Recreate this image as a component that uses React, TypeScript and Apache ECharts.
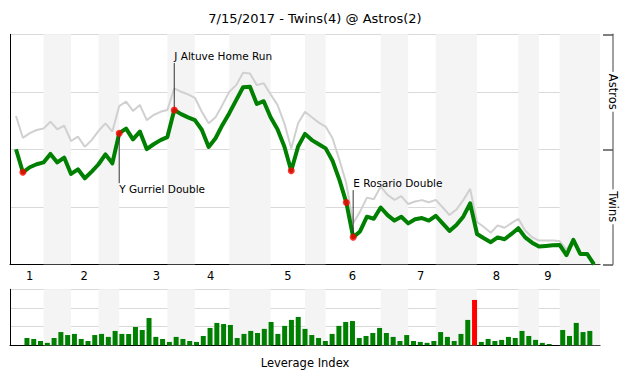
import React, { useEffect, useRef } from 'react';
import * as echarts from 'echarts';

const titleText = '7/15/2017 - Twins(4) @ Astros(2)';

// Astros win probability (%) after each plate appearance (index 0 = first pitch)
const homeWinProb = [
  50, 40.0, 42.2, 43.5, 44.3, 48.0, 44.3, 46.4, 39.3, 41.3,
  37.4, 40.3, 43.5, 47.8, 43.9, 57.0, 59.0, 54.3, 57.7, 50.1,
  52.2, 54.0, 55.3, 67.1, 65.3, 63.9, 62.7, 58.5, 51.0, 54.8,
  60.6, 65.7, 71.4, 77.0, 77.2, 69.7, 70.9, 63.9, 58.7, 51.2,
  40.7, 51.2, 56.7, 54.0, 52.2, 50.4, 45.0, 36.7, 26.9, 11.8,
  14.3, 20.7, 19.8, 24.7, 21.4, 19.0, 20.7, 17.8, 19.6, 20.1,
  19.0, 21.1, 17.8, 14.5, 17.1, 20.7, 26.5, 13.2, 11.3, 9.6,
  11.7, 10.9, 13.2, 15.7, 11.7, 9.4, 7.7, 8.0, 8.3, 8.4,
  4.0, 10.6, 4.5, 4.5, 0,
];

// Secondary (gray) probability line
const altWinProb = [
  64.5, 55.0, 57.0, 58.4, 59.0, 62.0, 58.7, 60.3, 53.6, 55.5,
  51.1, 54.0, 58.0, 61.3, 57.7, 68.8, 70.7, 66.7, 69.3, 62.7,
  64.9, 66.3, 67.1, 76.5, 75.0, 73.9, 72.4, 66.3, 61.3, 63.9,
  69.3, 75.0, 77.9, 83.3, 83.0, 77.9, 78.7, 73.9, 69.3, 61.3,
  50.4, 61.3, 66.3, 63.9, 61.6, 59.9, 54.8, 45.4, 35.2, 17.8,
  22.9, 29.0, 28.3, 33.8, 30.2, 28.0, 29.6, 26.2, 27.3, 27.9,
  27.0, 28.0, 24.8, 21.4, 23.8, 27.9, 32.8, 18.4, 16.2, 13.7,
  16.9, 15.9, 17.9, 19.8, 14.7, 11.8, 10.3, 10.3, 10.4, 10.1,
  6.4, 10.7, 4.5, 4.5, 0,
];

const scoringPlays = [1, 15, 23, 40, 48, 49];

const annotations = [
  { idx: 15, text: 'Y Gurriel Double', dir: 'down' },
  { idx: 23, text: 'J Altuve Home Run', dir: 'up' },
  { idx: 49, text: 'E Rosario Double', dir: 'up' },
];

// Leverage index for each plate appearance
const leverage = [
  0.39, 0.34, 0.23, 0.13, 0.39, 0.71, 0.55, 0.61, 0.34, 0.23,
  0.55, 0.61, 0.45, 0.77, 0.61, 0.61, 0.98, 0.82, 1.46, 0.45,
  0.34, 0.18, 0.45, 0.34, 0.23, 0.18, 0.50, 0.93, 1.20, 1.14,
  1.09, 0.39, 0.61, 0.77, 0.66, 0.88, 1.25, 0.61, 1.04, 1.36,
  1.52, 0.88, 0.55, 0.39, 0.23, 0.61, 1.04, 1.25, 1.30, 0.39,
  0.50, 0.66, 0.93, 0.66, 0.45, 0.23, 0.55, 0.23, 0.18, 0.13,
  0.23, 0.71, 0.45, 0.23, 0.61, 1.36, 2.43, 0.18, 0.34, 0.23,
  0.29, 0.45, 0.39, 0.77, 0.50, 0.29, 0.13, 0.07, 0, 0.82,
  0.50, 1.20, 0.71, 0.77,
];

const inningLabels = ['1', '2', '3', '4', '5', '6', '7', '8', '9'];
const inningTickPos = [2.0, 9.9, 20.4, 28.3, 39.5, 48.9, 58.8, 69.8, 77.3];
// bottom halves of innings (in plate-appearance index units)
const bottomHalves = [
  [4, 8], [12, 15], [22, 26], [31, 37], [42, 45], [53, 57], [61, 67], [73, 76], [79, 85],
];

const sideLabels = ['Twins', 'Astros'];
const sideLabelPos = [25, 75];

const X_MIN = -0.872;
const X_MAX = 84.872;
const FONT = 'DejaVu Sans';

export default function App() {
  const ref = useRef<HTMLDivElement>(null);

  useEffect(() => {
    if (!ref.current) return;
    const chart = echarts.init(ref.current, null, { renderer: 'svg' });
    const maxLev = Math.max(...leverage);
    const bandData = bottomHalves.map(([a, b]) => [
      { xAxis: a },
      { xAxis: Math.min(b, X_MAX) },
    ]);

    chart.setOption({
      animation: false,
      backgroundColor: '#fff',
      textStyle: { fontFamily: FONT },
      title: {
        text: titleText,
        left: 'center',
        top: 7,
        textStyle: { fontSize: 13, fontWeight: 'normal', color: '#000', fontFamily: FONT },
      },
      grid: [
        { left: 10, top: 34.3, width: 590, height: 230 },
        { left: 10, top: 289.3, width: 590, height: 56 },
      ],
      xAxis: [
        {
          gridIndex: 0,
          type: 'value',
          min: X_MIN,
          max: X_MAX,
          axisLine: { show: true, onZero: false, lineStyle: { color: '#000', width: 1 } },
          axisTick: { show: false },
          splitLine: { show: false },
          axisLabel: {
            show: true,
            customValues: inningTickPos,
            margin: 6,
            color: '#000',
            fontSize: 11.5,
            fontFamily: FONT,
            formatter: (v: number) => {
              const k = inningTickPos.findIndex((p) => Math.abs(p - v) < 1e-6);
              return k >= 0 ? inningLabels[k] : '';
            },
          },
        },
        {
          gridIndex: 1,
          type: 'value',
          min: -2.5,
          max: 84.5,
          axisLine: { show: true, onZero: false, lineStyle: { color: '#000', width: 1 } },
          axisTick: { show: false },
          axisLabel: { show: false },
          splitLine: { show: false },
          name: 'Leverage Index',
          nameLocation: 'middle',
          nameGap: 12,
          nameTextStyle: { color: '#000', fontSize: 11.5, fontFamily: FONT },
        },
        {
          gridIndex: 1,
          type: 'value',
          min: X_MIN,
          max: X_MAX,
          show: false,
        },
      ],
      yAxis: [
        {
          gridIndex: 0,
          type: 'value',
          min: 0,
          max: 100,
          interval: 25,
          axisLine: { show: true, onZero: false, lineStyle: { color: '#000', width: 1 } },
          axisTick: { show: false },
          axisLabel: { show: false },
          splitLine: { show: true, lineStyle: { color: '#d9d9d9', width: 1 } },
        },
        {
          gridIndex: 0,
          type: 'value',
          position: 'right',
          offset: 13,
          min: 0,
          max: 100,
          interval: 50,
          axisLine: { show: true, onZero: false, lineStyle: { color: '#808080', width: 1.5 } },
          axisTick: { show: true, inside: true, length: 10, lineStyle: { color: '#555', width: 1.5 } },
          splitLine: { show: false },
          axisLabel: {
            show: true,
            customValues: sideLabelPos,
            rotate: -90,
            margin: 0,
            align: 'center',
            verticalAlign: 'middle',
            color: '#000',
            fontSize: 11.5,
            fontFamily: FONT,
            backgroundColor: '#fff',
            padding: [0, 2],
            formatter: (v: number) => {
              const k = sideLabelPos.findIndex((p) => Math.abs(p - v) < 1e-6);
              return k >= 0 ? sideLabels[k] : '';
            },
          },
        },
        {
          gridIndex: 1,
          type: 'value',
          min: 0,
          max: 3,
          interval: 1,
          axisLine: { show: true, onZero: false, lineStyle: { color: '#000', width: 1 } },
          axisTick: { show: false },
          axisLabel: { show: false },
          splitLine: { show: true, lineStyle: { color: '#d9d9d9', width: 1 } },
        },
      ],
      series: [
        {
          type: 'line',
          xAxisIndex: 0,
          yAxisIndex: 0,
          data: [],
          z: -1,
          silent: true,
          markArea: { silent: true, itemStyle: { color: '#f4f4f4', opacity: 1 }, data: bandData },
        },
        {
          type: 'line',
          xAxisIndex: 0,
          yAxisIndex: 0,
          data: altWinProb.map((v, i) => [i, v]),
          symbol: 'none',
          lineStyle: { color: '#d0d0d0', width: 2 },
          z: 2,
        },
        {
          type: 'line',
          xAxisIndex: 0,
          yAxisIndex: 0,
          data: homeWinProb.map((v, i) => [i, v]),
          symbol: 'none',
          lineStyle: { color: '#008000', width: 4, join: 'round' },
          z: 3,
        },
        {
          type: 'scatter',
          xAxisIndex: 0,
          yAxisIndex: 0,
          data: scoringPlays.map((i) => [i, homeWinProb[i]]),
          symbolSize: 7,
          itemStyle: { color: '#ff0000' },
          z: 6,
        },
        {
          type: 'line',
          xAxisIndex: 2,
          yAxisIndex: 2,
          data: [],
          z: -1,
          silent: true,
          markArea: { silent: true, itemStyle: { color: '#f4f4f4', opacity: 1 }, data: bandData },
        },
        {
          type: 'bar',
          xAxisIndex: 1,
          yAxisIndex: 2,
          data: leverage.map((v, j) => [j, v]),
          barWidth: 5,
          itemStyle: {
            color: (p: any) => (p.value[1] === maxLev ? '#ff0000' : '#008000'),
          },
        },
      ],
    });

    const graphics: any[] = [];
    annotations.forEach((a) => {
      const p = chart.convertToPixel({ xAxisIndex: 0, yAxisIndex: 0 }, [a.idx, homeWinProb[a.idx]]) as number[];
      const up = a.dir === 'up';
      const lineEnd = up ? p[1] - 47 : p[1] + 50;
      const textY = up ? p[1] - 54 : p[1] + 56;
      graphics.push({
        type: 'line',
        z: 5,
        shape: { x1: p[0], y1: p[1], x2: p[0], y2: lineEnd },
        style: { stroke: '#333', lineWidth: 1 },
      });
      graphics.push({
        type: 'text',
        z: 5,
        x: p[0],
        y: textY,
        style: {
          text: a.text,
          fill: '#000',
          fontSize: 10.5,
          fontFamily: FONT,
          align: 'left',
          verticalAlign: 'middle',
        },
      });
    });
    chart.setOption({ graphic: graphics });

    return () => chart.dispose();
  }, []);

  return (
    <div
      ref={ref}
      style={{ position: 'fixed', left: 0, top: 0, width: 630, height: 380, background: '#fff' }}
    />
  );
}
